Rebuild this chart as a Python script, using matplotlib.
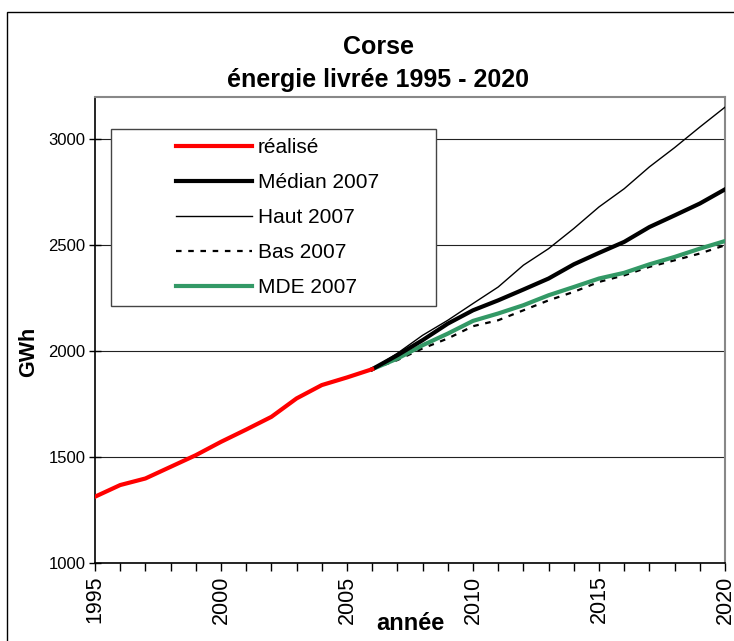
import matplotlib.pyplot as plt
from matplotlib.patches import Rectangle
from matplotlib.lines import Line2D

plt.rcParams['font.family'] = ['Liberation Sans', 'DejaVu Sans']

# data (GWh)
years_real = list(range(1995, 2007))
realise = [1313, 1368, 1399, 1454, 1509, 1572, 1630, 1690, 1777, 1840, 1876, 1915]

years_proj = list(range(2006, 2021))
median_2007 = [1915, 1981, 2052, 2130, 2193, 2240, 2291, 2343, 2410, 2464, 2516, 2586, 2641, 2697, 2764]
haut_2007 = [1915, 1990, 2075, 2146, 2225, 2303, 2406, 2484, 2579, 2681, 2767, 2870, 2961, 3058, 3152]
bas_2007 = [1915, 1958, 2013, 2060, 2118, 2146, 2193, 2240, 2280, 2327, 2358, 2398, 2429, 2461, 2500]
mde_2007 = [1915, 1965, 2028, 2083, 2143, 2178, 2217, 2264, 2303, 2343, 2370, 2410, 2445, 2484, 2520]

fig = plt.figure(figsize=(7.34, 6.41), dpi=100)
ax = fig.add_axes([95/734, 1-563/641, 630/734, 466/641])

# chart area border (top and left visible)
fig.patches.append(Rectangle((7/734, -0.1), 1.1, 1-12/641+0.1, transform=fig.transFigure,
                             fill=False, edgecolor='black', lw=1))

ax.plot(years_proj, haut_2007, color='black', lw=1, label='Haut 2007', zorder=3)
ax.plot(years_proj, bas_2007, color='black', lw=1.6, dashes=(2.5, 3), label='Bas 2007', zorder=3)
ax.plot(years_proj, mde_2007, color='#339966', lw=3, label='MDE 2007', zorder=4)
ax.plot(years_proj, median_2007, color='black', lw=3, label='Médian 2007', zorder=5)
ax.plot(years_real, realise, color='#ff0000', lw=3, label='réalisé', zorder=6)

ax.set_xlim(1995, 2020)
ax.set_ylim(1000, 3200)
ax.set_yticks([1000, 1500, 2000, 2500, 3000])
ax.set_xticks(range(1995, 2021, 5))
ax.set_xticks(range(1995, 2021), minor=True)
ax.tick_params(axis='x', which='both', direction='out', length=6, width=1,
               labelsize=15.5, labelrotation=90, pad=3)
ax.tick_params(axis='y', direction='inout', length=8, width=1, labelsize=12, pad=3)
ax.grid(axis='y', color='#222222', lw=0.8)
ax.set_axisbelow(True)

for s in ['top', 'right']:
    ax.spines[s].set_color('#888888')
    ax.spines[s].set_linewidth(1.5)
for s in ['left', 'bottom']:
    ax.spines[s].set_color('black')
    ax.spines[s].set_linewidth(1.2)

fig.text(0.515, 1-47/641, 'Corse', ha='center', va='center', fontsize=18, fontweight='bold')
fig.text(0.515, 1-80/641, 'énergie livrée 1995 - 2020', ha='center', va='center',
         fontsize=18, fontweight='bold')
fig.text(410/734, 1-624/641, 'année', ha='center', va='center', fontsize=17, fontweight='bold')
fig.text(29/734, 1-352/641, 'GWh', ha='center', va='center', rotation=90,
         fontsize=15.5, fontweight='bold')

# legend box
ax.add_patch(Rectangle(((111-95)/630, (563-306)/466), (436-111)/630, (306-129)/466,
                       transform=ax.transAxes, facecolor='white', edgecolor='#444444',
                       lw=1, zorder=7))
handles = [
    Line2D([0], [0], color='#ff0000', lw=3),
    Line2D([0], [0], color='black', lw=3),
    Line2D([0], [0], color='black', lw=1),
    Line2D([0], [0], color='black', lw=1.6, dashes=(2.5, 3)),
    Line2D([0], [0], color='#339966', lw=3),
]
labels = ['réalisé', 'Médian 2007', 'Haut 2007', 'Bas 2007', 'MDE 2007']
leg = ax.legend(handles, labels, loc='upper left', bbox_to_anchor=((176-95)/630, (563-138)/466),
                frameon=False, fontsize=15, handlelength=3.65, handletextpad=0.29,
                labelspacing=0.77, borderpad=0, borderaxespad=0)
leg.set_zorder(8)

fig.savefig('out.png', dpi=100)
